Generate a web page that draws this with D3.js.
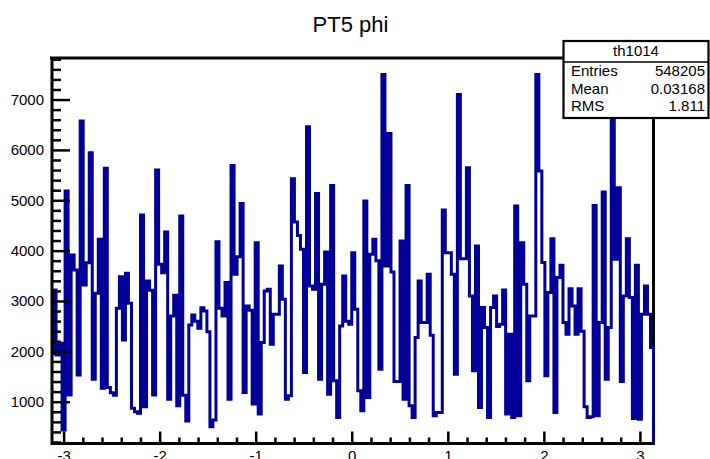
<!DOCTYPE html>
<html>
<head>
<meta charset="utf-8">
<script src="https://cdn.jsdelivr.net/npm/d3@7"></script>
<style>
  body { margin: 0; background: #fff; }
  text { font-family: "Liberation Sans", Arial, Helvetica, sans-serif; fill: #000; }
</style>
</head>
<body>
<script>
const w = 710
const h = 459

const title = 'PT5 phi'

// bin contents, 200 bins from -pi to pi
const counts = [
  1950, 3218, 1927, 2159, 438, 5184, 1133, 3913, 3615, 1530,
  6574, 3317, 3761, 5945, 1444, 3152, 4224, 1265, 5634, 1280,
  1180, 1130, 2854, 3483, 2225, 3549, 2953, 868, 800, 769,
  4707, 900, 3397, 3211, 1133, 5601, 3728, 3563, 4369, 1051,
  2703, 3113, 919, 4687, 1130, 616, 2523, 2722, 2600, 2457,
  2867, 2800, 2390, 504, 636, 4178, 2854, 2700, 3365, 1051,
  5691, 3530, 3880, 4938, 1183, 2902, 2816, 952, 4158, 754,
  2175, 3199, 3232, 2142, 2737, 2737, 3695, 3034, 1051, 1117,
  5427, 4568, 4300, 4026, 1580, 6458, 3299, 3232, 5136, 1448,
  3332, 3973, 1150, 5295, 1415, 688, 2505, 3497, 2600, 2538,
  3960, 2836, 1216, 820, 4984, 1084, 3927, 4224, 3800, 1646,
  7496, 3695, 6326, 3576, 1400, 1400, 4191, 1051, 5295, 919,
  688, 2274, 3398, 2571, 2571, 3530, 2321, 721, 787, 787,
  4806, 3960, 3960, 3530, 1547, 7099, 3841, 3841, 5645, 3100,
  1613, 4092, 886, 2869, 2472, 688, 2869, 3100, 2492, 2538,
  3219, 754, 2340, 688, 4885, 721, 4158, 3332, 1415, 2704,
  2704, 7496, 5579, 3762, 1514, 3166, 4237, 787, 3464, 3708,
  2571, 2340, 3245, 2900, 2340, 3245, 2400, 900, 688, 700,
  4898, 720, 2571, 5163, 1448, 2472, 6900, 3827, 5249, 1400,
  3100, 4237, 3067, 668, 3708, 654, 2736, 3298, 2736, 2075
]

const xRange = [-Math.PI, Math.PI]
const yRange = [170, 7825]

const xMajor = [-3, -2, -1, 0, 1, 2, 3]
const yMajor = [1000, 2000, 3000, 4000, 5000, 6000, 7000]

const statsName = 'th1014'
const statsLabels = ['Entries', 'Mean', 'RMS']
const statsValues = ['548205', '0.03168', '1.811']

const svg = d3.select('body').append('svg')
    .attr('width', w)
    .attr('height', h)

const x = d3.scaleLinear().domain(xRange).range([50, 653.5])
const y = d3.scaleLinear().domain(yRange).range([443.5, 58])

const binW = (xRange[1] - xRange[0]) / counts.length

// top and right frame lines (under the histogram)
svg.append('path')
    .attr('d', `M${x(xRange[0])},${y(yRange[1])}H${x(xRange[1])}V${y(yRange[0])}`)
    .attr('fill', 'none')
    .attr('stroke', '#000')
    .attr('stroke-width', 3)

// histogram outline
const pts = [[xRange[0], yRange[0]]]
counts.forEach(function (c, i) { pts.push([xRange[0] + i * binW, c]) })
pts.push([xRange[1], counts[counts.length - 1]])
pts.push([xRange[1], yRange[0]])

const line = d3.line()
    .x(function (d) { return x(d[0]) })
    .y(function (d) { return y(d[1]) })
    .curve(d3.curveStepAfter)

svg.append('clipPath').attr('id', 'clip')
  .append('rect')
    .attr('x', 52).attr('y', 56)
    .attr('width', 604).attr('height', 389)

svg.append('path')
    .datum(pts)
    .attr('d', line)
    .attr('clip-path', 'url(#clip)')
    .attr('fill', 'none')
    .attr('stroke', '#000099')
    .attr('stroke-width', 3)

// axes
const yMinor = d3.range(200, 7801, 200).filter(function (v) { return v % 1000 !== 0 })
const xMinor = d3.range(-3.0, 3.01, 0.2).map(function (v) { return Math.round(v * 10) / 10 })
    .filter(function (v) { return Math.abs(v - Math.round(v)) > 1e-6 })

function styleAxis(g) {
  g.select('.domain').remove()
  g.selectAll('.tick line').attr('stroke', '#000').attr('stroke-width', 2.5)
  g.selectAll('.tick text').style('font-size', '15px')
}

svg.append('g')
    .attr('transform', 'translate(52,0)')
    .call(d3.axisLeft(y).tickValues(yMinor).tickSize(-9).tickFormat(''))
    .call(styleAxis)

svg.append('g')
    .attr('transform', 'translate(52,0)')
    .call(d3.axisLeft(y).tickValues(yMajor).tickSize(-18).tickPadding(8)
        .tickFormat(function (d) { return String(d) }))
    .call(styleAxis)

svg.append('g')
    .attr('transform', 'translate(0,443.5)')
    .call(d3.axisBottom(x).tickValues(xMinor).tickSize(-6).tickFormat(''))
    .call(styleAxis)

svg.append('g')
    .attr('transform', 'translate(0,443.5)')
    .call(d3.axisBottom(x).tickValues(xMajor).tickSize(-12).tickPadding(7)
        .tickFormat(function (d) { return String(d) }))
    .call(styleAxis)

// left and bottom axis lines (on top)
svg.append('path')
    .attr('d', `M52,${y(yRange[1])}V${y(yRange[0])}H${x(xRange[1]) + 1.5}`)
    .attr('fill', 'none')
    .attr('stroke', '#000')
    .attr('stroke-width', 3)

// title
svg.append('text')
    .attr('x', 350.5)
    .attr('y', 32)
    .attr('text-anchor', 'middle')
    .style('font-size', '22px')
    .text(title)

// stats box
const box = svg.append('g')
box.append('rect')
    .attr('x', 563.5).attr('y', 41)
    .attr('width', 145).attr('height', 77)
    .attr('fill', '#fff')
    .attr('stroke', '#000')
    .attr('stroke-width', 2.2)
box.append('line')
    .attr('x1', 563.5).attr('x2', 708.5)
    .attr('y1', 62).attr('y2', 62)
    .attr('stroke', '#000')
    .attr('stroke-width', 1.5)
box.append('text')
    .attr('x', 636).attr('y', 56)
    .attr('text-anchor', 'middle')
    .style('font-size', '15px')
    .text(statsName)

const rowY = [76, 94, 111]
box.selectAll('text.lab')
    .data(statsLabels)
    .enter()
    .append('text')
    .attr('class', 'lab')
    .attr('x', 571)
    .attr('y', function (d, i) { return rowY[i] })
    .style('font-size', '15px')
    .text(function (d) { return d })

box.selectAll('text.val')
    .data(statsValues)
    .enter()
    .append('text')
    .attr('class', 'val')
    .attr('x', 705)
    .attr('y', function (d, i) { return rowY[i] })
    .attr('text-anchor', 'end')
    .style('font-size', '15px')
    .text(function (d) { return d })
</script>
</body>
</html>
